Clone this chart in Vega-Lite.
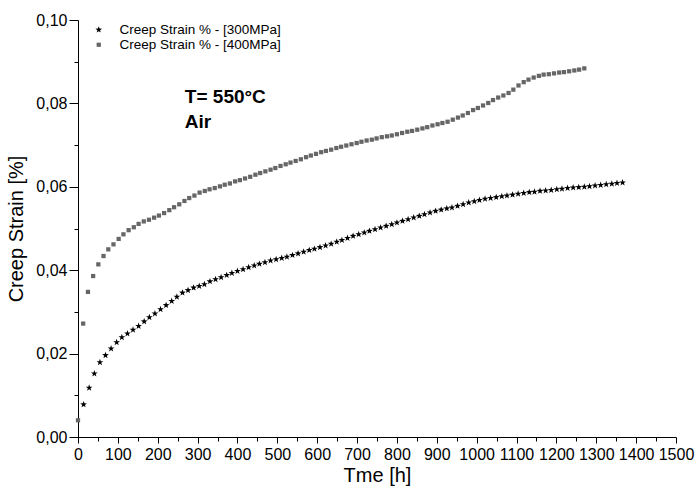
{
  "$schema": "https://vega.github.io/schema/vega-lite/v6.json",
  "width": 598,
  "height": 417,
  "autosize": {"type": "none"},
  "padding": {"left": 78, "top": 20, "right": 20, "bottom": 57},
  "background": "white",
  "config": {
    "font": "Liberation Sans",
    "view": {"stroke": null},
    "axis": {
      "grid": false,
      "domainColor": "black",
      "domainWidth": 1,
      "tickColor": "black",
      "labelColor": "black",
      "titleColor": "black",
      "labelFont": "Liberation Sans",
      "titleFont": "Liberation Sans",
      "labelFontSize": 16,
      "titleFontSize": 20,
      "titleFontWeight": "normal",
      "labelOverlap": false
    }
  },
  "datasets": {
    "creep": [
      {"series": "Creep Strain % - [300MPa]", "time": 14, "strain": 0.0078},
      {"series": "Creep Strain % - [300MPa]", "time": 28, "strain": 0.0118},
      {"series": "Creep Strain % - [300MPa]", "time": 41, "strain": 0.0152},
      {"series": "Creep Strain % - [300MPa]", "time": 55, "strain": 0.0179},
      {"series": "Creep Strain % - [300MPa]", "time": 69, "strain": 0.0196},
      {"series": "Creep Strain % - [300MPa]", "time": 83, "strain": 0.0212},
      {"series": "Creep Strain % - [300MPa]", "time": 97, "strain": 0.0227},
      {"series": "Creep Strain % - [300MPa]", "time": 110, "strain": 0.0239},
      {"series": "Creep Strain % - [300MPa]", "time": 124, "strain": 0.0248},
      {"series": "Creep Strain % - [300MPa]", "time": 138, "strain": 0.0257},
      {"series": "Creep Strain % - [300MPa]", "time": 152, "strain": 0.0266},
      {"series": "Creep Strain % - [300MPa]", "time": 166, "strain": 0.0277},
      {"series": "Creep Strain % - [300MPa]", "time": 179, "strain": 0.0287},
      {"series": "Creep Strain % - [300MPa]", "time": 193, "strain": 0.0296},
      {"series": "Creep Strain % - [300MPa]", "time": 207, "strain": 0.0306},
      {"series": "Creep Strain % - [300MPa]", "time": 221, "strain": 0.0316},
      {"series": "Creep Strain % - [300MPa]", "time": 235, "strain": 0.0326},
      {"series": "Creep Strain % - [300MPa]", "time": 248, "strain": 0.0336},
      {"series": "Creep Strain % - [300MPa]", "time": 262, "strain": 0.0346},
      {"series": "Creep Strain % - [300MPa]", "time": 276, "strain": 0.0352},
      {"series": "Creep Strain % - [300MPa]", "time": 290, "strain": 0.0358},
      {"series": "Creep Strain % - [300MPa]", "time": 304, "strain": 0.0362},
      {"series": "Creep Strain % - [300MPa]", "time": 317, "strain": 0.0366},
      {"series": "Creep Strain % - [300MPa]", "time": 331, "strain": 0.0373},
      {"series": "Creep Strain % - [300MPa]", "time": 345, "strain": 0.0378},
      {"series": "Creep Strain % - [300MPa]", "time": 359, "strain": 0.0383},
      {"series": "Creep Strain % - [300MPa]", "time": 373, "strain": 0.0388},
      {"series": "Creep Strain % - [300MPa]", "time": 386, "strain": 0.0393},
      {"series": "Creep Strain % - [300MPa]", "time": 400, "strain": 0.0398},
      {"series": "Creep Strain % - [300MPa]", "time": 414, "strain": 0.0402},
      {"series": "Creep Strain % - [300MPa]", "time": 428, "strain": 0.0407},
      {"series": "Creep Strain % - [300MPa]", "time": 442, "strain": 0.0411},
      {"series": "Creep Strain % - [300MPa]", "time": 455, "strain": 0.0415},
      {"series": "Creep Strain % - [300MPa]", "time": 469, "strain": 0.0419},
      {"series": "Creep Strain % - [300MPa]", "time": 483, "strain": 0.0423},
      {"series": "Creep Strain % - [300MPa]", "time": 497, "strain": 0.0426},
      {"series": "Creep Strain % - [300MPa]", "time": 511, "strain": 0.0429},
      {"series": "Creep Strain % - [300MPa]", "time": 524, "strain": 0.0432},
      {"series": "Creep Strain % - [300MPa]", "time": 538, "strain": 0.0436},
      {"series": "Creep Strain % - [300MPa]", "time": 552, "strain": 0.0440},
      {"series": "Creep Strain % - [300MPa]", "time": 566, "strain": 0.0444},
      {"series": "Creep Strain % - [300MPa]", "time": 580, "strain": 0.0448},
      {"series": "Creep Strain % - [300MPa]", "time": 593, "strain": 0.0451},
      {"series": "Creep Strain % - [300MPa]", "time": 607, "strain": 0.0455},
      {"series": "Creep Strain % - [300MPa]", "time": 621, "strain": 0.0459},
      {"series": "Creep Strain % - [300MPa]", "time": 635, "strain": 0.0463},
      {"series": "Creep Strain % - [300MPa]", "time": 649, "strain": 0.0468},
      {"series": "Creep Strain % - [300MPa]", "time": 662, "strain": 0.0472},
      {"series": "Creep Strain % - [300MPa]", "time": 676, "strain": 0.0477},
      {"series": "Creep Strain % - [300MPa]", "time": 690, "strain": 0.0482},
      {"series": "Creep Strain % - [300MPa]", "time": 704, "strain": 0.0486},
      {"series": "Creep Strain % - [300MPa]", "time": 718, "strain": 0.0490},
      {"series": "Creep Strain % - [300MPa]", "time": 731, "strain": 0.0494},
      {"series": "Creep Strain % - [300MPa]", "time": 745, "strain": 0.0498},
      {"series": "Creep Strain % - [300MPa]", "time": 759, "strain": 0.0502},
      {"series": "Creep Strain % - [300MPa]", "time": 773, "strain": 0.0506},
      {"series": "Creep Strain % - [300MPa]", "time": 787, "strain": 0.0510},
      {"series": "Creep Strain % - [300MPa]", "time": 800, "strain": 0.0514},
      {"series": "Creep Strain % - [300MPa]", "time": 814, "strain": 0.0518},
      {"series": "Creep Strain % - [300MPa]", "time": 828, "strain": 0.0522},
      {"series": "Creep Strain % - [300MPa]", "time": 842, "strain": 0.0526},
      {"series": "Creep Strain % - [300MPa]", "time": 856, "strain": 0.0530},
      {"series": "Creep Strain % - [300MPa]", "time": 869, "strain": 0.0534},
      {"series": "Creep Strain % - [300MPa]", "time": 883, "strain": 0.0538},
      {"series": "Creep Strain % - [300MPa]", "time": 897, "strain": 0.0542},
      {"series": "Creep Strain % - [300MPa]", "time": 911, "strain": 0.0545},
      {"series": "Creep Strain % - [300MPa]", "time": 925, "strain": 0.0548},
      {"series": "Creep Strain % - [300MPa]", "time": 938, "strain": 0.0550},
      {"series": "Creep Strain % - [300MPa]", "time": 952, "strain": 0.0554},
      {"series": "Creep Strain % - [300MPa]", "time": 966, "strain": 0.0558},
      {"series": "Creep Strain % - [300MPa]", "time": 980, "strain": 0.0562},
      {"series": "Creep Strain % - [300MPa]", "time": 994, "strain": 0.0565},
      {"series": "Creep Strain % - [300MPa]", "time": 1007, "strain": 0.0568},
      {"series": "Creep Strain % - [300MPa]", "time": 1021, "strain": 0.0571},
      {"series": "Creep Strain % - [300MPa]", "time": 1035, "strain": 0.0573},
      {"series": "Creep Strain % - [300MPa]", "time": 1049, "strain": 0.0575},
      {"series": "Creep Strain % - [300MPa]", "time": 1063, "strain": 0.0577},
      {"series": "Creep Strain % - [300MPa]", "time": 1076, "strain": 0.0579},
      {"series": "Creep Strain % - [300MPa]", "time": 1090, "strain": 0.0581},
      {"series": "Creep Strain % - [300MPa]", "time": 1104, "strain": 0.0583},
      {"series": "Creep Strain % - [300MPa]", "time": 1118, "strain": 0.0585},
      {"series": "Creep Strain % - [300MPa]", "time": 1132, "strain": 0.0587},
      {"series": "Creep Strain % - [300MPa]", "time": 1145, "strain": 0.0588},
      {"series": "Creep Strain % - [300MPa]", "time": 1159, "strain": 0.0590},
      {"series": "Creep Strain % - [300MPa]", "time": 1173, "strain": 0.0591},
      {"series": "Creep Strain % - [300MPa]", "time": 1187, "strain": 0.0592},
      {"series": "Creep Strain % - [300MPa]", "time": 1201, "strain": 0.0594},
      {"series": "Creep Strain % - [300MPa]", "time": 1214, "strain": 0.0595},
      {"series": "Creep Strain % - [300MPa]", "time": 1228, "strain": 0.0597},
      {"series": "Creep Strain % - [300MPa]", "time": 1242, "strain": 0.0598},
      {"series": "Creep Strain % - [300MPa]", "time": 1256, "strain": 0.0599},
      {"series": "Creep Strain % - [300MPa]", "time": 1270, "strain": 0.0600},
      {"series": "Creep Strain % - [300MPa]", "time": 1283, "strain": 0.0601},
      {"series": "Creep Strain % - [300MPa]", "time": 1297, "strain": 0.0603},
      {"series": "Creep Strain % - [300MPa]", "time": 1311, "strain": 0.0604},
      {"series": "Creep Strain % - [300MPa]", "time": 1325, "strain": 0.0606},
      {"series": "Creep Strain % - [300MPa]", "time": 1339, "strain": 0.0607},
      {"series": "Creep Strain % - [300MPa]", "time": 1352, "strain": 0.0609},
      {"series": "Creep Strain % - [300MPa]", "time": 1366, "strain": 0.0610},
      {"series": "Creep Strain % - [400MPa]", "time": 0, "strain": 0.0040},
      {"series": "Creep Strain % - [400MPa]", "time": 13, "strain": 0.0272},
      {"series": "Creep Strain % - [400MPa]", "time": 25, "strain": 0.0348},
      {"series": "Creep Strain % - [400MPa]", "time": 38, "strain": 0.0386},
      {"series": "Creep Strain % - [400MPa]", "time": 51, "strain": 0.0414},
      {"series": "Creep Strain % - [400MPa]", "time": 64, "strain": 0.0434},
      {"series": "Creep Strain % - [400MPa]", "time": 76, "strain": 0.0450},
      {"series": "Creep Strain % - [400MPa]", "time": 89, "strain": 0.0462},
      {"series": "Creep Strain % - [400MPa]", "time": 102, "strain": 0.0475},
      {"series": "Creep Strain % - [400MPa]", "time": 114, "strain": 0.0486},
      {"series": "Creep Strain % - [400MPa]", "time": 127, "strain": 0.0496},
      {"series": "Creep Strain % - [400MPa]", "time": 140, "strain": 0.0503},
      {"series": "Creep Strain % - [400MPa]", "time": 152, "strain": 0.0511},
      {"series": "Creep Strain % - [400MPa]", "time": 165, "strain": 0.0517},
      {"series": "Creep Strain % - [400MPa]", "time": 178, "strain": 0.0521},
      {"series": "Creep Strain % - [400MPa]", "time": 191, "strain": 0.0526},
      {"series": "Creep Strain % - [400MPa]", "time": 203, "strain": 0.0531},
      {"series": "Creep Strain % - [400MPa]", "time": 216, "strain": 0.0537},
      {"series": "Creep Strain % - [400MPa]", "time": 229, "strain": 0.0544},
      {"series": "Creep Strain % - [400MPa]", "time": 241, "strain": 0.0551},
      {"series": "Creep Strain % - [400MPa]", "time": 254, "strain": 0.0558},
      {"series": "Creep Strain % - [400MPa]", "time": 267, "strain": 0.0566},
      {"series": "Creep Strain % - [400MPa]", "time": 279, "strain": 0.0573},
      {"series": "Creep Strain % - [400MPa]", "time": 292, "strain": 0.0579},
      {"series": "Creep Strain % - [400MPa]", "time": 305, "strain": 0.0586},
      {"series": "Creep Strain % - [400MPa]", "time": 318, "strain": 0.0590},
      {"series": "Creep Strain % - [400MPa]", "time": 330, "strain": 0.0594},
      {"series": "Creep Strain % - [400MPa]", "time": 343, "strain": 0.0597},
      {"series": "Creep Strain % - [400MPa]", "time": 356, "strain": 0.0601},
      {"series": "Creep Strain % - [400MPa]", "time": 368, "strain": 0.0605},
      {"series": "Creep Strain % - [400MPa]", "time": 381, "strain": 0.0608},
      {"series": "Creep Strain % - [400MPa]", "time": 394, "strain": 0.0613},
      {"series": "Creep Strain % - [400MPa]", "time": 406, "strain": 0.0616},
      {"series": "Creep Strain % - [400MPa]", "time": 419, "strain": 0.0620},
      {"series": "Creep Strain % - [400MPa]", "time": 432, "strain": 0.0624},
      {"series": "Creep Strain % - [400MPa]", "time": 445, "strain": 0.0629},
      {"series": "Creep Strain % - [400MPa]", "time": 457, "strain": 0.0633},
      {"series": "Creep Strain % - [400MPa]", "time": 470, "strain": 0.0637},
      {"series": "Creep Strain % - [400MPa]", "time": 483, "strain": 0.0641},
      {"series": "Creep Strain % - [400MPa]", "time": 495, "strain": 0.0645},
      {"series": "Creep Strain % - [400MPa]", "time": 508, "strain": 0.0650},
      {"series": "Creep Strain % - [400MPa]", "time": 521, "strain": 0.0654},
      {"series": "Creep Strain % - [400MPa]", "time": 533, "strain": 0.0658},
      {"series": "Creep Strain % - [400MPa]", "time": 546, "strain": 0.0662},
      {"series": "Creep Strain % - [400MPa]", "time": 559, "strain": 0.0666},
      {"series": "Creep Strain % - [400MPa]", "time": 572, "strain": 0.0671},
      {"series": "Creep Strain % - [400MPa]", "time": 584, "strain": 0.0675},
      {"series": "Creep Strain % - [400MPa]", "time": 597, "strain": 0.0679},
      {"series": "Creep Strain % - [400MPa]", "time": 610, "strain": 0.0683},
      {"series": "Creep Strain % - [400MPa]", "time": 622, "strain": 0.0686},
      {"series": "Creep Strain % - [400MPa]", "time": 635, "strain": 0.0689},
      {"series": "Creep Strain % - [400MPa]", "time": 648, "strain": 0.0693},
      {"series": "Creep Strain % - [400MPa]", "time": 660, "strain": 0.0696},
      {"series": "Creep Strain % - [400MPa]", "time": 673, "strain": 0.0699},
      {"series": "Creep Strain % - [400MPa]", "time": 686, "strain": 0.0702},
      {"series": "Creep Strain % - [400MPa]", "time": 699, "strain": 0.0705},
      {"series": "Creep Strain % - [400MPa]", "time": 711, "strain": 0.0708},
      {"series": "Creep Strain % - [400MPa]", "time": 724, "strain": 0.0711},
      {"series": "Creep Strain % - [400MPa]", "time": 737, "strain": 0.0713},
      {"series": "Creep Strain % - [400MPa]", "time": 749, "strain": 0.0716},
      {"series": "Creep Strain % - [400MPa]", "time": 762, "strain": 0.0719},
      {"series": "Creep Strain % - [400MPa]", "time": 775, "strain": 0.0721},
      {"series": "Creep Strain % - [400MPa]", "time": 787, "strain": 0.0723},
      {"series": "Creep Strain % - [400MPa]", "time": 800, "strain": 0.0726},
      {"series": "Creep Strain % - [400MPa]", "time": 813, "strain": 0.0729},
      {"series": "Creep Strain % - [400MPa]", "time": 826, "strain": 0.0732},
      {"series": "Creep Strain % - [400MPa]", "time": 838, "strain": 0.0734},
      {"series": "Creep Strain % - [400MPa]", "time": 851, "strain": 0.0737},
      {"series": "Creep Strain % - [400MPa]", "time": 864, "strain": 0.0740},
      {"series": "Creep Strain % - [400MPa]", "time": 876, "strain": 0.0743},
      {"series": "Creep Strain % - [400MPa]", "time": 889, "strain": 0.0747},
      {"series": "Creep Strain % - [400MPa]", "time": 902, "strain": 0.0750},
      {"series": "Creep Strain % - [400MPa]", "time": 914, "strain": 0.0753},
      {"series": "Creep Strain % - [400MPa]", "time": 927, "strain": 0.0756},
      {"series": "Creep Strain % - [400MPa]", "time": 940, "strain": 0.0761},
      {"series": "Creep Strain % - [400MPa]", "time": 953, "strain": 0.0766},
      {"series": "Creep Strain % - [400MPa]", "time": 965, "strain": 0.0771},
      {"series": "Creep Strain % - [400MPa]", "time": 978, "strain": 0.0777},
      {"series": "Creep Strain % - [400MPa]", "time": 991, "strain": 0.0784},
      {"series": "Creep Strain % - [400MPa]", "time": 1003, "strain": 0.0789},
      {"series": "Creep Strain % - [400MPa]", "time": 1016, "strain": 0.0795},
      {"series": "Creep Strain % - [400MPa]", "time": 1029, "strain": 0.0801},
      {"series": "Creep Strain % - [400MPa]", "time": 1041, "strain": 0.0808},
      {"series": "Creep Strain % - [400MPa]", "time": 1054, "strain": 0.0814},
      {"series": "Creep Strain % - [400MPa]", "time": 1067, "strain": 0.0819},
      {"series": "Creep Strain % - [400MPa]", "time": 1080, "strain": 0.0825},
      {"series": "Creep Strain % - [400MPa]", "time": 1092, "strain": 0.0833},
      {"series": "Creep Strain % - [400MPa]", "time": 1105, "strain": 0.0843},
      {"series": "Creep Strain % - [400MPa]", "time": 1118, "strain": 0.0851},
      {"series": "Creep Strain % - [400MPa]", "time": 1130, "strain": 0.0857},
      {"series": "Creep Strain % - [400MPa]", "time": 1143, "strain": 0.0862},
      {"series": "Creep Strain % - [400MPa]", "time": 1156, "strain": 0.0866},
      {"series": "Creep Strain % - [400MPa]", "time": 1168, "strain": 0.0869},
      {"series": "Creep Strain % - [400MPa]", "time": 1181, "strain": 0.0870},
      {"series": "Creep Strain % - [400MPa]", "time": 1194, "strain": 0.0872},
      {"series": "Creep Strain % - [400MPa]", "time": 1207, "strain": 0.0874},
      {"series": "Creep Strain % - [400MPa]", "time": 1219, "strain": 0.0875},
      {"series": "Creep Strain % - [400MPa]", "time": 1232, "strain": 0.0877},
      {"series": "Creep Strain % - [400MPa]", "time": 1245, "strain": 0.0879},
      {"series": "Creep Strain % - [400MPa]", "time": 1257, "strain": 0.0881},
      {"series": "Creep Strain % - [400MPa]", "time": 1270, "strain": 0.0884}
    ],
    "note": [
      {"line1": "T= 550°C", "line2": "Air"}
    ]
  },
  "encoding": {
    "x": {
      "type": "quantitative",
      "scale": {"domain": [0, 1500], "nice": false, "zero": false},
      "axis": {
        "title": "Tme [h]",
        "values": [0, 50, 100, 150, 200, 250, 300, 350, 400, 450, 500, 550, 600, 650, 700, 750, 800, 850, 900, 950, 1000, 1050, 1100, 1150, 1200, 1250, 1300, 1350, 1400, 1450, 1500],
        "labelExpr": "datum.value % 100 === 0 ? format(datum.value, 'd') : ''",
        "tickSize": {"condition": {"test": "datum.value % 100 === 0", "value": 6}, "value": 4},
        "labelPadding": 3,
        "labelFlush": false,
        "labelOverlap": false,
        "titlePadding": 3
      }
    },
    "y": {
      "type": "quantitative",
      "scale": {"domain": [0, 0.1], "nice": false},
      "axis": {
        "title": "Creep Strain [%]",
        "values": [0, 0.01, 0.02, 0.03, 0.04, 0.05, 0.06, 0.07, 0.08, 0.09, 0.1],
        "labelExpr": "round(datum.value * 100) % 2 === 0 ? replace(format(datum.value, '.2f'), '.', ',') : ''",
        "tickSize": {"condition": {"test": "round(datum.value * 100) % 2 === 0", "value": 9}, "value": 4},
        "labelPadding": 2,
        "labelFlush": false,
        "labelOverlap": false,
        "titlePadding": 9
      }
    }
  },
  "layer": [
    {
      "data": {"name": "creep"},
      "mark": {"type": "point", "filled": true, "opacity": 1, "strokeWidth": 0},
      "encoding": {
        "x": {"field": "time"},
        "y": {"field": "strain"},
        "color": {
          "field": "series",
          "type": "nominal",
          "scale": {"domain": ["Creep Strain % - [300MPa]", "Creep Strain % - [400MPa]"], "range": ["#000000", "#666666"]},
          "legend": {
            "title": null,
            "orient": "none",
            "legendX": 14,
            "legendY": 3,
            "padding": 0,
            "labelFont": "Liberation Sans",
            "labelFontSize": 13.5,
            "labelColor": "black",
            "labelLimit": 400,
            "labelOffset": 14,
            "symbolSize": 22,
            "symbolStrokeWidth": 0,
            "rowPadding": 0
          }
        },
        "shape": {
          "field": "series",
          "type": "nominal",
          "scale": {"domain": ["Creep Strain % - [300MPa]", "Creep Strain % - [400MPa]"], "range": ["M0,-1L0.235,-0.324L0.951,-0.309L0.38,0.124L0.588,0.809L0,0.4L-0.588,0.809L-0.38,0.124L-0.951,-0.309L-0.235,-0.324Z", "square"]}
        },
        "size": {
          "field": "series",
          "type": "ordinal",
          "scale": {"domain": ["Creep Strain % - [300MPa]", "Creep Strain % - [400MPa]"], "range": [50, 18]},
          "legend": null
        }
      }
    },
    {
      "data": {"name": "note"},
      "mark": {"type": "text", "align": "left", "baseline": "alphabetic", "font": "Liberation Sans", "fontSize": 19, "fontWeight": "bold", "color": "black"},
      "encoding": {
        "text": {"field": "line1"},
        "x": {"datum": 268},
        "y": {"datum": 0.0800}
      }
    },
    {
      "data": {"name": "note"},
      "mark": {"type": "text", "align": "left", "baseline": "alphabetic", "font": "Liberation Sans", "fontSize": 19, "fontWeight": "bold", "color": "black"},
      "encoding": {
        "text": {"field": "line2"},
        "x": {"datum": 268},
        "y": {"datum": 0.0741}
      }
    }
  ]
}
